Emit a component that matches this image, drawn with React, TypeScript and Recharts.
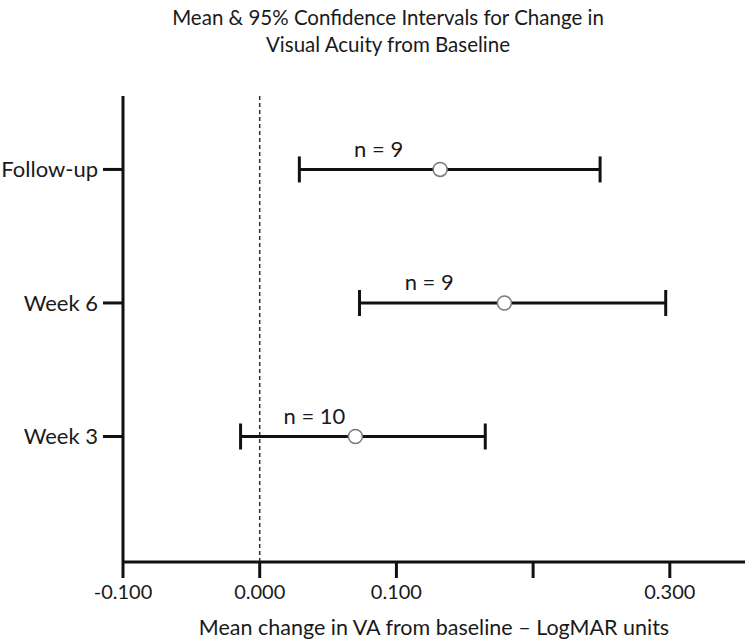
import React from 'react';
import { ScatterChart, Scatter, XAxis, YAxis, ErrorBar, ReferenceLine } from 'recharts';

// visits, bottom to top
const visits = ['Week 3', 'Week 6', 'Follow-up'];
const meanChange = [0.070, 0.179, 0.132];
const ciLow = [-0.014, 0.073, 0.029];
const ciHigh = [0.165, 0.297, 0.249];
const nLabels = ['n = 10', 'n = 9', 'n = 9'];
const nLabelX = [0.040, 0.124, 0.087];

const xTicks = [-0.1, 0, 0.1, 0.2, 0.3];
const xTickLabels = ['-0.100', '0.000', '0.100', '', '0.300'];

const font = 'Lato, "Open Sans", sans-serif';
const textColor = '#1a1a1a';

const points = visits.map((v, i) => ({
  x: meanChange[i],
  y: i + 1,
  err: [meanChange[i] - ciLow[i], ciHigh[i] - meanChange[i]],
}));

const labelPoints = visits.map((v, i) => ({ x: nLabelX[i], y: i + 1, label: nLabels[i] }));

const MeanDot = (props: any) => (
  <circle cx={props.cx} cy={props.cy} r={7} fill="#fff" stroke="#7a7a7a" strokeWidth={1.5} />
);

const NLabel = (props: any) => (
  <text x={props.cx} y={props.cy - 21} textAnchor="middle" dominantBaseline="central"
    fontFamily={font} fontSize={22} fill={textColor}>
    {props.payload.label}
  </text>
);

export default function App() {
  return (
    <div style={{ position: 'relative', width: 748, height: 641, background: '#fff', fontFamily: font }}>
      <style>{`body{margin:0}`}</style>
      <div style={{ position: 'absolute', left: 88, width: 600, top: 4, textAlign: 'center', fontSize: 20.5, lineHeight: '27px', color: textColor }}>
        Mean &amp; 95% Confidence Intervals for Change in<br />Visual Acuity from Baseline
      </div>
      <ScatterChart width={748} height={641} margin={{ top: 96, right: 3, bottom: 0, left: 0 }}>
        <XAxis type="number" dataKey="x" domain={[-0.1, 0.355]} ticks={xTicks} allowDataOverflow
          tickFormatter={(v: number) => xTickLabels[xTicks.indexOf(v)] ?? ''}
          height={79} tickSize={16} tickMargin={7}
          axisLine={{ stroke: '#111', strokeWidth: 3 }} tickLine={{ stroke: '#111', strokeWidth: 3 }}
          tick={{ fontFamily: font, fontSize: 20, fill: textColor }} />
        <YAxis type="number" dataKey="y" domain={[0.06, 3.55]} ticks={[1, 2, 3]} allowDataOverflow
          tickFormatter={(v: number) => visits[v - 1] ?? ''}
          width={123} tickSize={20} tickMargin={5}
          axisLine={{ stroke: '#111', strokeWidth: 3 }} tickLine={{ stroke: '#111', strokeWidth: 3 }}
          tick={{ fontFamily: font, fontSize: 22, fill: textColor }} />
        <ReferenceLine x={0} stroke="#333" strokeWidth={1.5} strokeDasharray="4 3" />
        <Scatter data={points} shape={<MeanDot />} isAnimationActive={false}>
          <ErrorBar dataKey="err" direction="x" width={13} stroke="#111" strokeWidth={3} />
        </Scatter>
        <Scatter data={labelPoints} shape={<NLabel />} isAnimationActive={false} />
      </ScatterChart>
      <div style={{ position: 'absolute', left: 134, width: 600, top: 613, textAlign: 'center', fontSize: 21.5, lineHeight: '28px', color: textColor }}>
        Mean change in VA from baseline – LogMAR units
      </div>
    </div>
  );
}
